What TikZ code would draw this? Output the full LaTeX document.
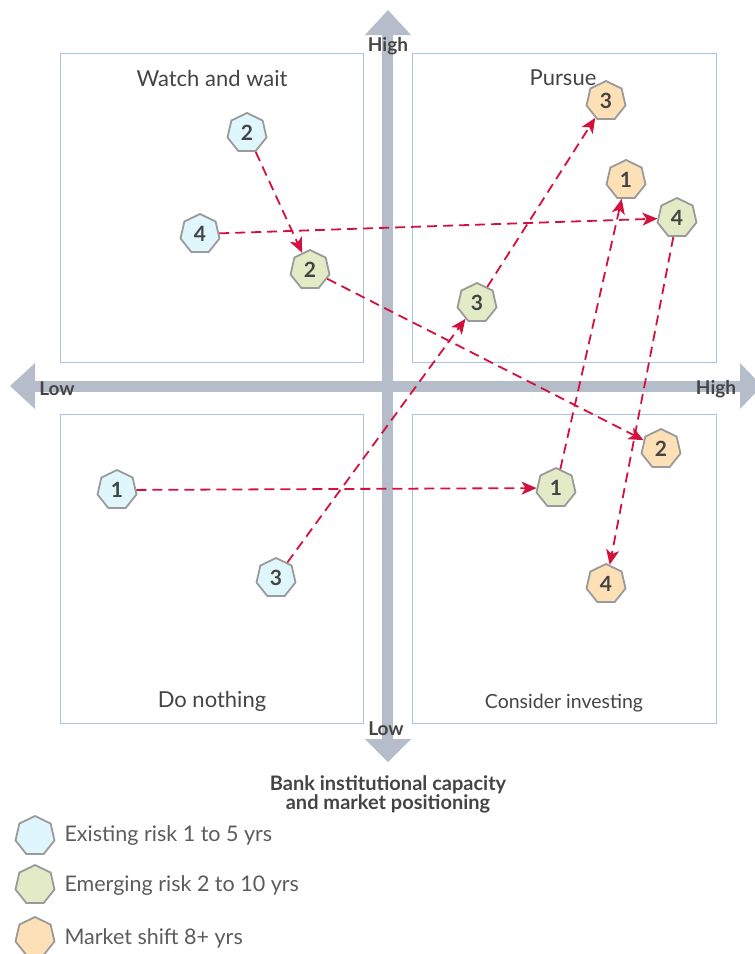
\documentclass[tikz,border=0pt]{standalone}
\usepackage{fontspec}
\setmainfont{Lato}
\usetikzlibrary{shapes.geometric,arrows.meta}
\definecolor{axisgray}{HTML}{B5BCCA}
\definecolor{boxblue}{HTML}{A9C5E6}
\definecolor{arrowred}{HTML}{D2123C}
\definecolor{existfill}{HTML}{DFF6FD}
\definecolor{emergefill}{HTML}{E2EAC6}
\definecolor{shiftfill}{HTML}{FDE0B6}
\definecolor{rimgray}{HTML}{9A9A9A}
\definecolor{labelgray}{HTML}{444444}
\definecolor{keygray}{HTML}{5C5C5C}
\tikzset{
  risk/.style={regular polygon,regular polygon sides=7,draw=rimgray,line width=1.8pt,
    minimum size=40pt,inner sep=0pt,text=labelgray,font=\bfseries\fontsize{21}{21}\selectfont},
  exist/.style={risk,fill=existfill},
  emerge/.style={risk,fill=emergefill},
  marketshift/.style={risk,fill=shiftfill},
  quad/.style={draw=boxblue,line width=0.9pt},
  move/.style={draw=arrowred,line width=1.8pt,dash pattern=on 10pt off 6pt,
    -{Stealth[length=15pt,width=13pt,inset=4pt]}},
  axislabel/.style={text=labelgray,font=\bfseries\fontsize{19}{20}\selectfont},
  quadtitle/.style={text=labelgray,font=\fontsize{22}{24}\selectfont},
  legendtext/.style={text=keygray,font=\fontsize{21.5}{23}\selectfont,anchor=west}
}
\begin{document}
\begin{tikzpicture}[x=1pt,y=-1pt]
  \useasboundingbox (0,0) rectangle (755,954);
  % quadrants
  \draw[quad] (60,53) rectangle (363,362);
  \draw[quad] (412,53) rectangle (716,362);
  \draw[quad] (60,414) rectangle (363,723);
  \draw[quad] (412,414) rectangle (716,723);
  % axes
  \fill[axisgray] (382,35) rectangle (393,739);
  \fill[axisgray] (35,381) rectangle (740,392);
  \fill[axisgray] (388,10) -- (411,35) -- (365,35) -- cycle;
  \fill[axisgray] (388,762) -- (411,739) -- (365,739) -- cycle;
  \fill[axisgray] (10,386) -- (35,363) -- (35,409) -- cycle;
  \fill[axisgray] (762,386) -- (740,363) -- (740,409) -- cycle;
  \node[axislabel] (hi) at (388,46) {High};
  \node[axislabel] (lo) at (386,729) {Low};
  \node[axislabel] (left) at (57,389) {Low};
  \node[axislabel] (right) at (716,389) {High};
  \node[quadtitle] (ww) at (212,78) {Watch and wait};
  \node[quadtitle] (pu) at (563,78) {Pursue};
  \node[quadtitle] (dn) at (212,701) {Do nothing};
  \node[quadtitle,font=\fontsize{19.5}{22}\selectfont] (ci) at (564,703) {Consider investing};
  \node[axislabel,align=center,font=\bfseries\fontsize{20}{18}\selectfont] (cap) at (388,794)
    {Bank institutional capacity\\and market positioning};
  % risks
  \node[exist] (x2) at (247,133) {2};
  \node[exist] (x4) at (200,234) {4};
  \node[exist] (x1) at (117,490) {1};
  \node[exist] (x3) at (276,578) {3};
  \node[emerge] (e2) at (310,270) {2};
  \node[emerge] (e3) at (477,303) {3};
  \node[emerge] (e4) at (677,218) {4};
  \node[emerge] (e1) at (556,488) {1};
  \node[marketshift] (s3) at (606,101) {3};
  \node[marketshift] (s1) at (626,180) {1};
  \node[marketshift] (s2) at (661,449) {2};
  \node[marketshift] (s4) at (606,584) {4};

  \foreach \from/\to in {x2/e2, x4/e4, e2/s2, x3/e3, e3/s3, x1/e1, e1/s1, e4/s4}
    \draw[move] (\from) -- (\to);

  % legend
  \node[exist] (kx) at (35,836) {};
  \node[emerge] (ke) at (35,885) {};
  \node[marketshift] (ks) at (35,937) {};
  \node[legendtext] (tx) at (61,836) {Existing risk 1 to 5 yrs};
  \node[legendtext] (te) at (61,886) {Emerging risk 2 to 10 yrs};
  \node[legendtext] (ts) at (61,938) {Market shift 8+ yrs};
\end{tikzpicture}
\end{document}
